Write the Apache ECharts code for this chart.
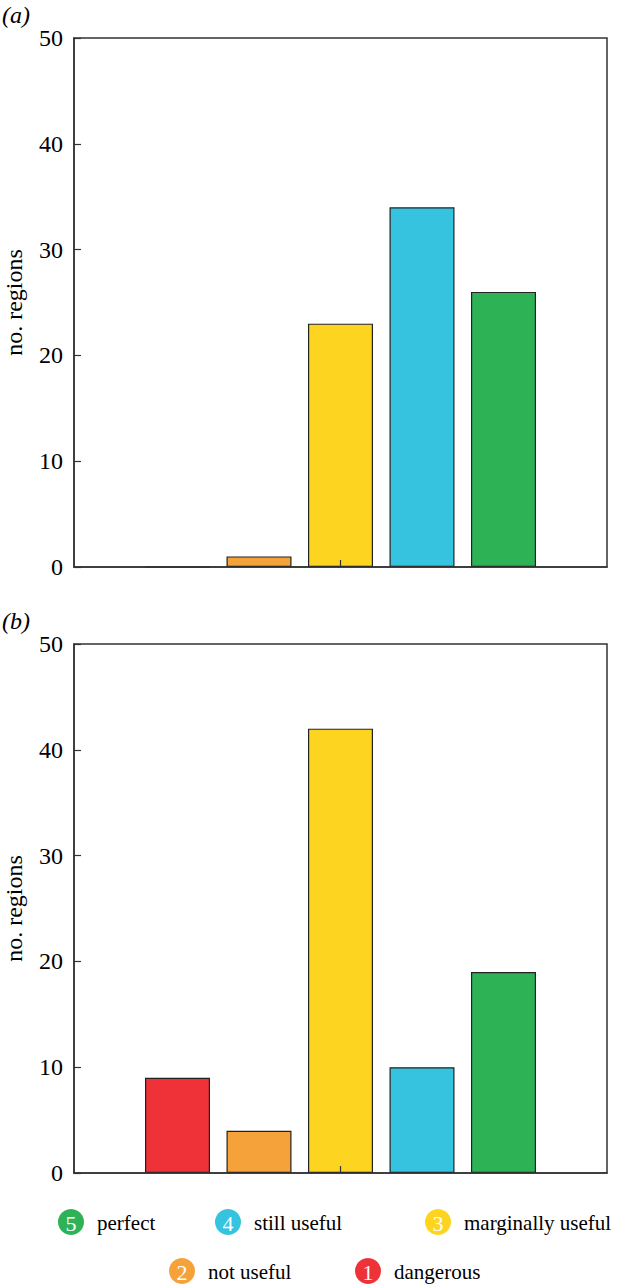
<!DOCTYPE html>
<html>
<head>
<meta charset="utf-8">
<script src="https://cdn.jsdelivr.net/npm/echarts@6/dist/echarts.min.js"></script>
<style>
  html, body { margin: 0; padding: 0; background: #fff; }
  #chart { width: 618px; height: 1284px; }
</style>
</head>
<body>
<div id="chart"></div>
<script>
  // rating classes, 1 = dangerous ... 5 = perfect
  var ratings = [1, 2, 3, 4, 5]
  var ratingNames = ['dangerous', 'not useful', 'marginally useful', 'still useful', 'perfect']
  var ratingColors = ['#ee3237', '#f6a23b', '#fdd520', '#35c3e0', '#2eb256']

  // number of regions per rating
  var countsA = [0, 1, 23, 34, 26]
  var countsB = [9, 4, 42, 10, 19]

  var yTicks = [0, 10, 20, 30, 40, 50]
  var panelLabels = ['(a)', '(b)']

  var serif = 'Liberation Serif, Times New Roman, serif'
  var axisColor = '#333'
  var textColor = '#000'

  function barData(counts) {
    return counts.map(function (v, i) {
      return {value: [ratings[i], v], itemStyle: {color: ratingColors[i]}}
    })
  }

  function setupGrid(top) {
    return {
      left: 74, width: 533, top: top, height: 529,
      outerBoundsMode: 'none', containLabel: false,
      show: true, borderColor: axisColor, borderWidth: 1.5
    }
  }

  function setupXAxis(idx) {
    return {
      type: 'value', gridIndex: idx, min: -0.27, max: 6.27, z: 5,
      axisLine: {show: true, onZero: false, lineStyle: {color: axisColor, width: 1.5}},
      axisTick: {show: true, inside: true, length: 7, customValues: [3], lineStyle: {color: axisColor, width: 1.2}},
      axisLabel: {show: false},
      splitLine: {show: false}
    }
  }

  function setupYAxis(idx) {
    return {
      type: 'value', gridIndex: idx, min: yTicks[0], max: yTicks[yTicks.length - 1], interval: 10,
      name: 'no. regions', nameLocation: 'middle', nameGap: 48,
      nameTextStyle: {fontFamily: serif, fontSize: 24, color: textColor},
      axisLine: {show: true, onZero: false, lineStyle: {color: axisColor, width: 1.5}},
      axisTick: {show: true, inside: true, length: 7, lineStyle: {color: axisColor, width: 1.2}},
      axisLabel: {fontFamily: serif, fontSize: 24, color: textColor, margin: 11},
      splitLine: {show: false}
    }
  }

  function setupSeries(idx, counts) {
    return {
      type: 'bar', xAxisIndex: idx, yAxisIndex: idx,
      barWidth: 65,
      data: barData(counts),
      itemStyle: {borderColor: '#222', borderWidth: 1.2},
      silent: true
    }
  }

  // legend: two rows of numbered discs, same order as ratings
  var legendPos = [[368, 1271], [182, 1271], [438, 1222], [228, 1222], [71, 1222]]

  function setupGraphic() {
    var g = []
    panelLabels.forEach(function (txt, i) {
      g.push({
        type: 'text', left: 2, top: i == 0 ? 3 : 609,
        style: {text: txt, fontFamily: serif, fontSize: 24, fontStyle: 'italic', fill: textColor}
      })
    })
    ratings.forEach(function (r, i) {
      var p = legendPos[i]
      g.push({type: 'circle', shape: {cx: p[0], cy: p[1], r: 13}, style: {fill: ratingColors[i]}})
      g.push({
        type: 'text', x: p[0], y: p[1] + 1,
        style: {text: String(r), fontFamily: serif, fontSize: 22, fill: '#fff', align: 'center', verticalAlign: 'middle'}
      })
      g.push({
        type: 'text', x: p[0] + 26, y: p[1] + 1,
        style: {text: ratingNames[i], fontFamily: serif, fontSize: 21, fill: textColor, align: 'left', verticalAlign: 'middle'}
      })
    })
    return g
  }

  var chart = echarts.init(document.getElementById('chart'), null, {renderer: 'svg'})
  chart.setOption({
    animation: false,
    backgroundColor: '#fff',
    grid: [setupGrid(38), setupGrid(644)],
    xAxis: [setupXAxis(0), setupXAxis(1)],
    yAxis: [setupYAxis(0), setupYAxis(1)],
    series: [setupSeries(0, countsA), setupSeries(1, countsB)],
    graphic: setupGraphic()
  })
</script>
</body>
</html>
